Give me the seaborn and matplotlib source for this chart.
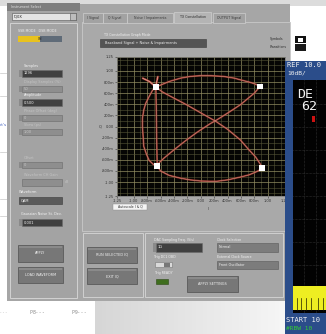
import numpy as np
import pandas as pd
import matplotlib
matplotlib.use("Agg")
import matplotlib.pyplot as plt
from matplotlib.patches import Rectangle
from matplotlib.ticker import MultipleLocator
import seaborn as sns

# ---------------- data ----------------
I_path = [-0.67, -0.47, -0.30, -0.16, 0.00, 0.14, 0.34, 0.50, 0.59, 0.72, 0.80, 0.89,
          0.85, 0.80, 0.70, 0.59, 0.40, 0.215, 0.14, -0.05, -0.21, -0.40, -0.55, -0.62, -0.65,
          -0.60, -0.47, -0.30, -0.16, 0.00, 0.14, 0.24, 0.40, 0.59, 0.72, 0.82, 0.90, 0.92,
          0.88, 0.82, 0.72, 0.59, 0.40, 0.215, 0.14, -0.05, -0.21, -0.40, -0.57, -0.67,
          -0.72, -0.77, -0.82, -0.85, -0.87, -0.87, -0.86, -0.85, -0.81, -0.77, -0.71, -0.65,
          -0.655, -0.66, -0.665, -0.67,
          -0.75, -0.87, -0.78, -0.67, -0.64, -0.66, -0.67]
Q_path = [0.71, 0.81, 0.87, 0.90, 0.915, 0.915, 0.90, 0.87, 0.84, 0.80, 0.77, 0.72,
          0.67, 0.60, 0.50, 0.39, 0.24, 0.10, 0.05, -0.10, -0.24, -0.42, -0.57, -0.65, -0.71,
          -0.80, -0.88, -0.93, -0.96, -0.98, -0.985, -0.985, -0.96, -0.91, -0.87, -0.82, -0.77, -0.74,
          -0.66, -0.55, -0.42, -0.24, -0.05, 0.10, 0.15, 0.28, 0.39, 0.51, 0.62, 0.71,
          0.65, 0.54, 0.42, 0.30, 0.15, 0.00, -0.18, -0.36, -0.50, -0.61, -0.68, -0.71,
          -0.40, 0.00, 0.40, 0.71,
          0.80, 0.87, 0.82, 0.71, 0.90, 0.80, 0.71]
symbol_I = [-0.67, 0.89, -0.65, 0.92]
symbol_Q = [0.71, 0.72, -0.71, -0.74]
tick_values = [-1.25, -1.0, -0.8, -0.6, -0.4, -0.2, 0.0, 0.2, 0.4, 0.6, 0.8, 1.0, 1.25]
tick_labels = ["-1.25", "-1.00", "-800m", "-600m", "-400m", "-200m", "0.00",
               "200m", "400m", "600m", "800m", "1.00", "1.25"]
tabs = ["I Signal", "Q Signal", "Noise / Impairments", "TX Constellation", "OUTPUT Signal"]

W, H = 326, 334
fig = plt.figure(figsize=(W / 100, H / 100), dpi=100)
fig.patch.set_facecolor("white")
bg = fig.add_axes([0, 0, 1, 1])
bg.set_xlim(0, W)
bg.set_ylim(H, 0)
bg.axis("off")


def box(x0, y0, x1, y1, fc, ec="none", lw=0.5, z=1, ax=None):
    (ax or bg).add_patch(Rectangle((x0, y0), x1 - x0, y1 - y0, facecolor=fc,
                                   edgecolor=ec, linewidth=lw, zorder=z))


def t(x, y, s, size=2.8, color="#2a2a2a", ha="left", va="center", ax=None, **kw):
    (ax or bg).text(x, y, s, fontsize=size, color=color, ha=ha, va=va, zorder=10, **kw)


# white left strip decorations (page behind)
for yy in [73, 96, 152, 199, 216]:
    bg.plot([0, 7], [yy, yy], color="#c8c8c8", lw=0.5, zorder=1)
t(0, 125, "ct's", size=3, color="#4060c0")
t(0, 312, "- - -", size=3, color="#999999")

# bottom gradient shadow
grad = np.linspace(0.84, 0.99, 64)[None, :]
bg.imshow(np.dstack([grad, grad, grad]), extent=(95, 326, 334, 300), aspect="auto", zorder=0)
t(30, 312, "P8- - -", size=3.4, color="#8a8a8a")
t(72, 312, "P9- - -", size=3.4, color="#8a8a8a")

# main gray GUI
box(0, 0, 326, 6, "#dcdcdc", z=0.5)
box(7, 4, 290, 301, "#a6a6a6", z=1)
box(7, 3, 80, 11, "#7e7e7e", z=2)
t(11, 7, "Instrument Select", size=2.4, color="#e0e0e0")
box(12, 13, 76, 20, "#e4e4e4", ec="#555555", lw=0.4, z=3)
box(70, 13, 76, 20, "#bdbdbd", ec="#555555", lw=0.4, z=3)
t(14, 16.5, "IQ0X", size=2.6, color="#222")
# left control panel
box(10, 23, 77, 298, "#a3a3a3", ec="#d2d2d2", lw=0.7, z=2)
t(18, 31, "SSB MODE   DSB MODE", size=2.3, color="#f0f0f0")
box(18, 36, 40, 42, "#e8c21e", z=3)
box(40, 36, 62, 42, "#5f6b78", z=3)
t(38, 39, "ON", size=2.2, color="#222")


def num(x0, y0, x1, y1, label, value, dark=True):
    box(x0, y0, x1, y1, "#404040" if dark else "#8e8e8e", ec="#6a6a6a", lw=0.4, z=3)
    box(x0 - 3.5, y0, x0 - 0.5, y1, "#8a8a8a", z=3)
    t(x0 + 2, (y0 + y1) / 2, value, size=2.6, color="#f0f0f0" if dark else "#c8c8c8")
    if label:
        t(x0 + 2, y0 - 4, label, size=2.5, color="#f4f4f4" if dark else "#c4c4c4")


num(22, 70, 62, 77, "Samples", "1296")
num(22, 86, 62, 92, "Display Samples (%)", "50", dark=False)
num(22, 99, 62, 106, "Amplitude", "0.500")
num(22, 115, 62, 121, "Phase Offset (deg)", "0", dark=False)
num(22, 129, 62, 135, "Skew (ps)", "1.00", dark=False)
num(22, 162, 62, 168, "Offset", "0", dark=False)
box(22, 179, 62, 186, "#8e8e8e", ec="#6a6a6a", lw=0.4, z=3)
t(24, 175, "Waveform CH Gain", size=2.5, color="#c4c4c4")
t(65, 182, "dB", size=2.4, color="#c4c4c4")
t(19, 192, "Waveform", size=2.6, color="#f4f4f4")
box(19, 197, 62, 204, "#5a5a5a", ec="#3a3a3a", lw=0.4, z=3)
t(21, 200.5, "QAM", size=2.6, color="#f0f0f0")
t(21, 214, "Gaussian Noise St. Dev.", size=2.4, color="#f4f4f4")
num(22, 219, 62, 226, "", "0.001")


def button(x0, y0, x1, y1, label):
    box(x0, y0, x1, y1, "#777777", ec="#5a5a5a", lw=0.6, z=3)
    box(x0 + 1, y0 + 1, x1 - 1, y0 + 3, "#8a8a8a", z=3.5)
    t((x0 + x1) / 2, (y0 + y1) / 2, label, size=2.5, color="#f2f2f2", ha="center")


button(18, 245, 63, 262, "APPLY")
button(18, 267, 63, 283, "LOAD WAVEFORM")

# tabs
tab_x = [(83, 103), (103, 127), (127, 173), (174, 211), (213, 245)]
for (a, b), name in zip(tab_x, tabs):
    sel = name == "TX Constellation"
    box(a, 12 if sel else 13, b, 23, "#b4b4b4" if sel else "#a2a2a2", ec="#cfcfcf", lw=0.5, z=2)
    t((a + b) / 2, 17.5, name, size=2.3, color="#2a2a2a" if sel else "#3a3a3a", ha="center")
box(82, 22, 290, 231, "#a9a9a9", ec="#c9c9c9", lw=0.6, z=1.5)
t(104, 35, "TX Constellation Graph Mode", size=2.3, color="#f0f0f0")
box(100, 39, 206, 47, "#545454", ec="#3a3a3a", lw=0.4, z=3)
t(105, 43, "Baseband Signal + Noise & Impairments", size=2.5, color="#f0f0f0")
t(270, 39, "Symbols", size=2.3, color="#2a2a2a")
t(270, 47, "Transitions", size=2.3, color="#2a2a2a")
box(295, 36, 306, 43, "#111111", z=3)
box(298, 38, 303, 42, "#ffffff", z=3.5)
box(295, 44, 306, 51, "#1a1a1a", z=3)

# bottom panels
box(83, 233, 143, 297, "#a6a6a6", ec="#d0d0d0", lw=0.7, z=2)
button(87, 247, 137, 263, "RUN SELECTED IQ")
button(87, 268, 137, 284, "EXIT IQ")
box(145, 233, 283, 297, "#a6a6a6", ec="#d0d0d0", lw=0.7, z=2)
t(154, 240, "DAC Sampling Freq. (S/s)", size=2.3, color="#f0f0f0")
num(156, 243, 202, 252, "", "1G")
t(154, 257, "Trig DC1 OBD", size=2.3, color="#f0f0f0")
box(155, 262, 172, 267, "#dadada", ec="#777777", lw=0.4, z=3)
box(164, 262.5, 170, 266.5, "#777777", z=3.5)
t(155, 273, "Trig READY", size=2.3, color="#f0f0f0")
box(156, 279, 168, 284, "#3f6e1e", ec="#2c4a16", lw=0.4, z=3)
t(217, 240, "Clock Selection", size=2.3, color="#f0f0f0")
box(217, 243, 278, 252, "#7c7c7c", ec="#5a5a5a", lw=0.4, z=3)
t(219, 247.5, "Normal", size=2.4, color="#f0f0f0")
t(217, 257, "External Clock Source", size=2.3, color="#f0f0f0")
box(217, 261, 278, 269, "#7c7c7c", ec="#5a5a5a", lw=0.4, z=3)
t(219, 265, "Front Oscillator", size=2.4, color="#f0f0f0")
button(187, 276, 238, 292, "APPLY SETTINGS")

# autoscale box and axis labels
box(113, 204, 147, 210, "#f4f4f4", ec="#888888", lw=0.3, z=3)
t(130, 207, "Autoscale I & Q", size=2.3, color="#333333", ha="center")
t(100, 127, "Q", size=2.6, color="#333333", ha="center")
t(208, 209, "I", size=2.6, color="#333333", ha="center")

# ---------------- constellation plot ----------------
x0p, x1p, y0p, y1p = 117, 284.5, 57, 196
ax = fig.add_axes([x0p / W, 1 - y1p / H, (x1p - x0p) / W, (y1p - y0p) / H])
ax.set_facecolor("#060604")
ax.set_xlim(-1.25, 1.25)
ax.set_ylim(-1.25, 1.25)
ax.xaxis.set_minor_locator(MultipleLocator(0.1))
ax.yaxis.set_minor_locator(MultipleLocator(0.1))
ax.grid(True, which="minor", color="#565638", lw=0.4)
ax.grid(True, which="major", color="#908c60", lw=0.5)
ax.set_axisbelow(True)

df_path = pd.DataFrame({"I": I_path, "Q": Q_path})
df_sym = pd.DataFrame({"I": symbol_I, "Q": symbol_Q})
sns.lineplot(data=df_path, x="I", y="Q", sort=False, estimator=None, color="#a83a30",
             lw=1.3, alpha=0.8, ax=ax)
sns.lineplot(data=df_path, x="I", y="Q", sort=False, estimator=None, color="#e0a090",
             lw=0.4, alpha=0.85, ax=ax)
sns.scatterplot(data=df_sym, x="I", y="Q", marker="s", s=18, color="white",
                edgecolor="none", ax=ax, zorder=5)

ax.set_xticks(tick_values)
ax.set_xticklabels(tick_labels)
ax.set_yticks(tick_values)
ax.set_yticklabels(tick_labels)
ax.tick_params(axis="both", which="major", labelsize=2.6, colors="#333333",
               length=1.2, width=0.4, pad=1)
ax.tick_params(axis="both", which="minor", length=0)
ax.set_xlabel("")
ax.set_ylabel("")
for sp in ax.spines.values():
    sp.set_color("#777777")
    sp.set_linewidth(0.5)

# ---------------- spectrum analyzer overlay ----------------
sa = fig.add_axes([285 / W, 0, 41 / W, (H - 61) / H])
sa.set_xlim(285, 326)
sa.set_ylim(H, 61)
sa.axis("off")
box(285, 61, 326, 334, "#2b4d8a", z=1, ax=sa)
box(293, 80, 330, 313, "#020202", z=2, ax=sa)
for yy in [104, 127, 150, 173, 196, 219, 242, 265, 288]:
    sa.plot([293, 326], [yy, yy], color="#505050", lw=0.4, ls=(0, (1, 1.5)), zorder=3)
for xx in [304, 316]:
    sa.plot([xx, xx], [80, 313], color="#505050", lw=0.4, ls=(0, (1, 1.5)), zorder=3)
box(293, 286, 326, 310, "#eeee22", z=4, ax=sa)
for xx in [297, 301, 306, 311, 318, 323]:
    sa.plot([xx, xx], [298, 310], color="#202000", lw=0.5, zorder=5)
box(312, 116, 315, 122, "#cc1111", z=5, ax=sa)
t(287, 65, "REF 10.0", size=5, color="#f2f2f2", ax=sa, family="DejaVu Sans Mono")
t(287, 73, "10dB/", size=4.5, color="#f2f2f2", ax=sa, family="DejaVu Sans Mono")
t(297, 94, "DE", size=9.5, color="#f2f2f2", ax=sa, family="DejaVu Sans Mono")
t(301, 107, "62", size=9.5, color="#f2f2f2", ax=sa, family="DejaVu Sans Mono")
t(286, 320, "START 10", size=5, color="#f2f2f2", ax=sa, family="DejaVu Sans Mono")
t(286, 329, "#RBW 10", size=4.5, color="#33cc33", ax=sa, family="DejaVu Sans Mono")

fig.savefig("out.png", dpi=100, facecolor="white")
